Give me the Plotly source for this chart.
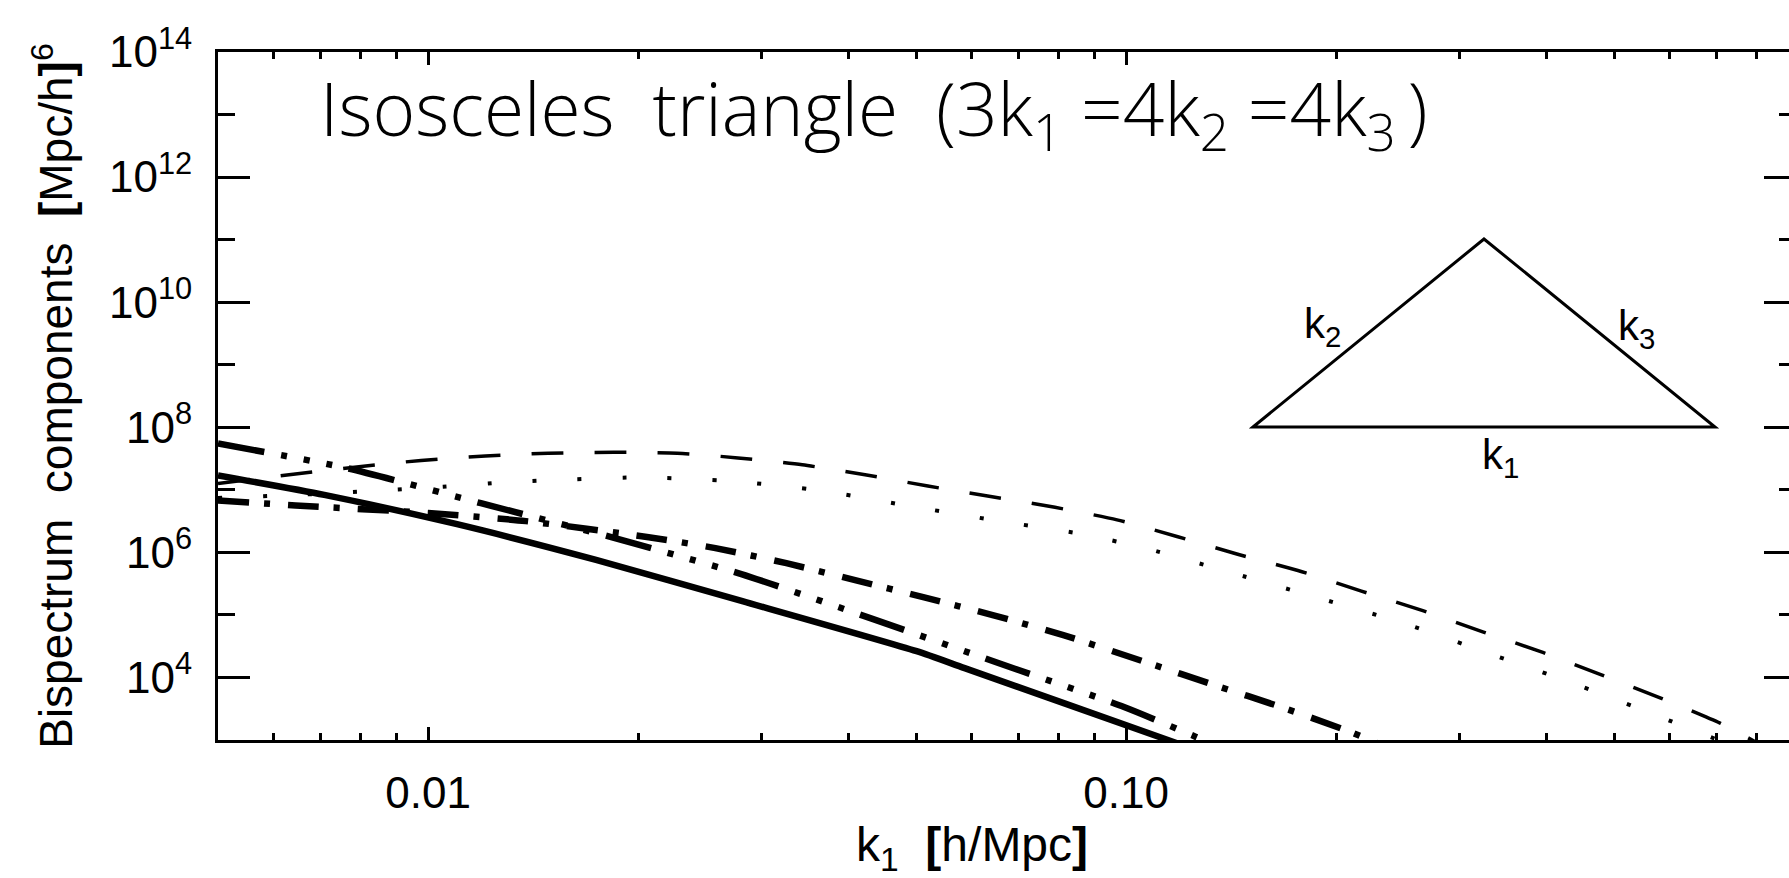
import math
import plotly.graph_objects as go

# ---------------- data ----------------
# solid thick curve
k_solid = [0.0050, 0.0071, 0.0110, 0.0174, 0.0282, 0.0501, 0.0587, 0.1148, 0.1202]
B_solid = [1.70e7, 8.3e6, 2.82e6, 7.59e5, 1.66e5, 2.63e4, 1.41e4, 1.0e3, 8.3e2]

# thick dash-dot-dot-dot curve
k_ddd = [0.0050, 0.00767, 0.0119, 0.0183, 0.0281, 0.0430, 0.0656, 0.0993, 0.1259, 0.1318]
B_ddd = [5.5e7, 2.21e7, 6.11e6, 1.75e6, 4.49e5, 8.89e4, 1.70e4, 3.37e3, 1.12e3, 8.9e2]

# thick dash-dot curve
k_dd = [0.0050, 0.00646, 0.0100, 0.0138, 0.0207, 0.0258, 0.0326, 0.0409, 0.0512,
        0.0644, 0.0813, 0.1076, 0.1337, 0.1667, 0.2080, 0.2291]
B_dd = [6.76e6, 5.62e6, 4.27e6, 3.16e6, 1.75e6, 1.17e6, 6.71e5, 3.60e5, 1.92e5,
        9.93e4, 4.75e4, 1.70e4, 7.57e3, 3.37e3, 1.39e3, 8.9e2]

# thin dashed curve
k_dash = [0.0050, 0.00641, 0.00796, 0.00977, 0.01208, 0.01486, 0.01845, 0.02275, 0.02780,
          0.03436, 0.04227, 0.05200, 0.06427, 0.07907, 0.09705, 0.1186, 0.1445, 0.1786,
          0.2173, 0.2661, 0.3243, 0.3954, 0.4797, 0.5834, 0.7096, 0.7943]
B_dash = [1.26e7, 1.78e7, 2.34e7, 2.95e7, 3.47e7, 3.85e7, 3.98e7, 3.85e7, 3.24e7,
          2.51e7, 1.74e7, 1.15e7, 7.76e6, 5.25e6, 3.31e6, 1.78e6, 9.33e5, 4.90e5,
          2.40e5, 1.17e5, 5.37e4, 2.51e4, 1.10e4, 4.68e3, 1.86e3, 9.55e2]

# thin dotted curve
k_dot = [0.0050, 0.0065, 0.0083, 0.0105, 0.0129, 0.0163, 0.0202, 0.0272, 0.0365, 0.0484,
         0.0649, 0.0867, 0.108, 0.143, 0.189, 0.251, 0.330, 0.436, 0.573, 0.705, 0.741]
B_dot = [7.41e6, 8.32e6, 9.55e6, 1.12e7, 1.32e7, 1.48e7, 1.58e7, 1.38e7, 9.77e6, 5.62e6,
         3.24e6, 1.95e6, 1.12e6, 4.57e5, 1.86e5, 7.24e4, 2.45e4, 8.13e3, 2.51e3, 1.0e3, 7.94e2]

# axis ticks
x_major = [0.01, 0.1]
x_major_text = ["0.01", "0.10"]
x_minor = [0.006, 0.007, 0.008, 0.009, 0.02, 0.03, 0.04, 0.05, 0.06, 0.07, 0.08, 0.09,
           0.2, 0.3, 0.4, 0.5, 0.6, 0.7, 0.8]
y_major_exp = [4, 6, 8, 10, 12, 14]
y_minor_exp = [5, 7, 9, 11, 13]

title_text = ("Isosceles  triangle  (3k<sub>1</sub> =4k<sub>2</sub> =4k<sub>3</sub>\u2009)")
x_title = "k<sub>1</sub>  <b>[</b>h/Mpc<b>]</b>"
y_title = "Bispectrum  components  <b>[</b>Mpc/h<b>]</b><sup>6</sup>"

# ---------------- figure ----------------
W, H = 1789, 878
L, R, T, B = 218, 0, 52, 138
FONT = "Liberation Sans, Arial, sans-serif"

fig = go.Figure()

def add(k, b, width, dash, name):
    fig.add_trace(go.Scatter(
        x=k, y=b, mode="lines", name=name, showlegend=False,
        line=dict(color="black", width=width, dash=dash, shape="spline", smoothing=0.6)))

add(k_dash, B_dash, 3.5, "32px,31px", "dashed")
add(k_dot, B_dot, 4, "4px,41px", "dotted")
add(k_dd, B_dd, 6.5, "31px,15px,6px,18px", "dash-dot")
add(k_ddd, B_ddd, 6.5, "47px,17px,6px,17px,6px,17px,6px,17px", "dash-dot-dot-dot")
add(k_solid, B_solid, 6.5, "solid", "solid")

# invisible helper so the right-hand tick axis is rendered
fig.add_trace(go.Scatter(x=k_solid[:1], y=B_solid[:1], mode="markers", yaxis="y2",
                         marker=dict(opacity=0), hoverinfo="skip", showlegend=False))

x_lo = math.log10(0.005)
px_per_dec = 698.0
x_hi = x_lo + (W - L - R) / px_per_dec

y_major = [10.0 ** e for e in y_major_exp]
y_major_text = ["10<sup>%d</sup>" % e for e in y_major_exp]
y_minor = [10.0 ** e for e in y_minor_exp]

fig.update_layout(
    width=W, height=H, autosize=False,
    margin=dict(l=L, r=R, t=T, b=B, pad=0),
    paper_bgcolor="white", plot_bgcolor="white",
    font=dict(family=FONT, color="black"),
    xaxis=dict(
        type="log", range=[x_lo, x_hi], showgrid=False, zeroline=False,
        showline=True, linecolor="black", linewidth=3, mirror="ticks",
        ticks="inside", ticklen=13, tickwidth=3, tickcolor="black",
        tickmode="array", tickvals=x_major, ticktext=x_major_text,
        tickfont=dict(size=44, family=FONT), ticklabelstandoff=12,
        minor=dict(tickmode="array", tickvals=x_minor, ticks="inside", ticklen=7,
                   tickwidth=2.5, tickcolor="black", showgrid=False),
    ),
    yaxis=dict(
        type="log", range=[3, 14], showgrid=False, zeroline=False,
        showline=True, linecolor="black", linewidth=3, mirror=False,
        ticks="inside", ticklen=32, tickwidth=3, tickcolor="black",
        tickmode="array", tickvals=y_major, ticktext=y_major_text,
        tickfont=dict(size=44, family=FONT), ticklabelstandoff=14,
        minor=dict(tickmode="array", tickvals=y_minor, ticks="inside", ticklen=17,
                   tickwidth=3, tickcolor="black", showgrid=False),
        title=dict(text=y_title, font=dict(size=46, family=FONT), standoff=22),
    ),
    yaxis2=dict(
        type="log", range=[3, 14], overlaying="y", side="right", anchor="x",
        showgrid=False, zeroline=False, showline=False, showticklabels=False,
        ticks="inside", ticklen=25, tickwidth=3, tickcolor="black",
        tickmode="array", tickvals=y_major,
        minor=dict(tickmode="array", tickvals=y_minor, ticks="inside", ticklen=10,
                   tickwidth=3, tickcolor="black", showgrid=False),
    ),
)

def px(xp):
    return (xp - L) / (W - L - R)

def py(yp):
    return (740 - yp) / (H - T - B)

# x-axis title (placed as annotation for exact position)
fig.add_annotation(
    text=x_title, xref="paper", yref="paper", x=px(972), y=py(848),
    xanchor="center", yanchor="middle", showarrow=False,
    font=dict(size=48, family=FONT, color="black"),
)

# title inside the plot
fig.add_annotation(
    text=title_text, xref="paper", yref="paper",
    x=px(318), y=py(112),
    xanchor="left", yanchor="middle", showarrow=False,
    font=dict(size=73, family="Open Sans, Roboto, Liberation Sans, sans-serif", weight=300, color="black"),
)

# triangle sketch (paper coordinates)
tri = [(1253, 427), (1484, 239), (1715, 427)]
path = "M %f,%f L %f,%f L %f,%f Z" % (px(tri[0][0]), py(tri[0][1]), px(tri[1][0]), py(tri[1][1]),
                                     px(tri[2][0]), py(tri[2][1]))
fig.add_shape(type="path", path=path, xref="paper", yref="paper",
              line=dict(color="black", width=3), fillcolor="rgba(0,0,0,0)")

for lab, xx, yy in [("k<sub>2</sub>", 1322, 326), ("k<sub>3</sub>", 1636, 328), ("k<sub>1</sub>", 1500, 458)]:
    fig.add_annotation(text=lab, xref="paper", yref="paper", x=px(xx), y=py(yy),
                       xanchor="center", yanchor="middle", showarrow=False,
                       font=dict(size=42, family=FONT, color="black"))

fig.write_html("out.html", config={"displayModeBar": False})
